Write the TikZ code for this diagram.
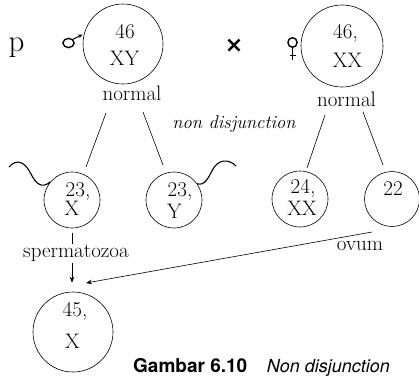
\documentclass[tikz,border=0pt]{standalone}
\usepackage{fontspec}
\newfontfamily\capfont{TeX Gyre Heros}
\newfontfamily\symfont{DejaVu Sans}
\usetikzlibrary{arrows.meta,calc}
\begin{document}
\begin{tikzpicture}[x=1pt,y=-1pt,
  cell/.style={circle,draw,line width=0.6pt,inner sep=0pt},
  txt/.style={font=\fontsize{21}{23}\selectfont,inner sep=0pt,anchor=base},
  conn/.style={line width=0.6pt},
  tail/.style={line width=1.1pt},
  arr/.style={line width=0.6pt,-{Stealth[length=6pt,width=4.5pt]}}]
\useasboundingbox (0,0) rectangle (419,375);

% circles
\node[cell,minimum size=80pt] (c1) at (123,44) {};
\node[cell,minimum size=82pt] (c2) at (342,46) {};
\node[cell,minimum size=56pt] (cX) at (72,200) {};
\node[cell,minimum size=56pt] (cY) at (174,200) {};
\node[cell,minimum size=56pt] (cXX) at (300,199) {};
\node[cell,minimum size=55pt] (c22) at (392,199) {};
\node[cell,minimum size=80pt] (c45) at (73,332) {};

% texts
\node[txt,font=\fontsize{31}{33}\selectfont] (p) at (16.5,51) {p};
\node[txt] (t46) at (125,38) {46};
\node[txt] (tXY) at (124.5,65) {XY};
\node[txt] (n1) at (132,100) {normal};
\node[txt] (t46b) at (345.5,38) {46,};
\node[txt] (tXX) at (347.5,67) {XX};
\node[txt] (n2) at (346.5,106) {normal};
\node[txt,font=\fontsize{18.5}{20}\selectfont\itshape] (nd) at (234,128) {non disjunction};
\node[txt] (t23a) at (78,196) {23,};
\node[txt] (tXa) at (72,215) {X};
\node[txt] (t23b) at (180,196) {23,};
\node[txt] (tYb) at (174.5,218) {Y};
\node[txt] (t24) at (303,193) {24,};
\node[txt] (tXXc) at (302,215) {XX};
\node[txt] (t22) at (393,195) {22};
\node[txt] (ov) at (360,250) {ovum};
\node[txt] (sp) at (76,257) {spermatozoa};
\node[txt] (t45) at (75,316) {45,};
\node[txt] (tX45) at (72.5,348) {X};
\node[font=\symfont\bfseries\fontsize{22}{24}\selectfont,inner sep=0pt] (times) at (234,46) {×};

% gender symbols
\draw[line width=1.4pt] (68.5,43) ellipse[x radius=5.6,y radius=4.6];
\draw[line width=0.9pt,-{Stealth[length=4.5pt,width=4pt]}] (72.5,39.5) -- (82.5,34.5);
\draw[line width=1.4pt] (292.5,42.5) ellipse[x radius=4.6,y radius=4.8];
\draw[line width=0.9pt] (292.5,47.3) -- (292.5,60);
\draw[line width=0.9pt] (289.5,55) -- (295.5,55);

% meiosis lines
\draw[conn] ([shift={(-17,69)}]c1.center) -- ([shift={(14,-33)}]cX.center);
\draw[conn] ([shift={(20,68)}]c1.center) -- ([shift={(-11,-35)}]cY.center);
\draw[conn] ([shift={(-17,69)}]c2.center) -- ([shift={(7,-31)}]cXX.center);
\draw[conn] ([shift={(21,66)}]c2.center) -- ([shift={(-9,-34)}]c22.center);

% sperm tails
\coordinate (tx0) at (9,167);
\coordinate (ty1) at (236,166);
\draw[tail] (tx0) .. controls (17,158) and (25,162) .. (31,174) .. controls (36,184) and (42,189) .. (cX.140);
\draw[tail] (cY.35) .. controls (205,186) and (208,178) .. (213,169) .. controls (218,160) and (228,158) .. (ty1);

% fertilisation
\draw[conn,shorten <=5pt] (cX.south) -- (cX.south |- sp.north);
\draw[arr,shorten <=1.5pt,shorten >=9pt] (cX.south |- sp.south) -- (cX.south |- c45.north);
\draw[arr] ([shift={(-20,33)}]c22.center) -- ([shift={(13,-49)}]c45.center);

% caption
\node[font=\capfont\bfseries\fontsize{19}{21}\selectfont,inner sep=0pt,anchor=base west] (cap1) at (133,372) {Gambar 6.10};
\node[font=\capfont\itshape\fontsize{18}{20}\selectfont,inner sep=0pt,anchor=base east] (cap2) at (390,372) {Non disjunction};
\end{tikzpicture}
\end{document}
